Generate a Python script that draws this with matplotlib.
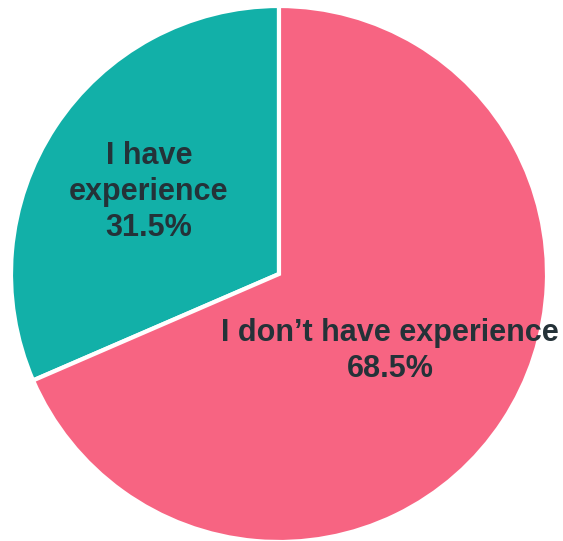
import matplotlib
matplotlib.use("Agg")
import matplotlib.pyplot as plt

labels = ["I have\nexperience", "I don\u2019t have experience"]
shares = [31.5, 68.5]
colors = ["#12B0A8", "#F76482"]

W, H = 563, 541
fig = plt.figure(figsize=(W / 100, H / 100), dpi=100)
ax = fig.add_axes([0, 0, 1, 1])
ax.set_aspect("equal")
ax.axis("off")

# pie laid out in pixel units so the centre/radius are easy to place
cx, cy, r = 279, H - 274, 268
ax.pie(shares, colors=colors, startangle=90, counterclock=True,
       center=(cx, cy), radius=r,
       wedgeprops=dict(edgecolor="white", linewidth=3))
ax.set_xlim(0, W)
ax.set_ylim(0, H)

label_pos = [(149, H - 192), (390, H - 351)]
for lab, val, (x, y) in zip(labels, shares, label_pos):
    ax.text(x, y, f"{lab}\n{val:.1f}%", ha="center", va="center",
            fontsize=22, fontweight="bold", color="#243238",
            family="Liberation Sans", linespacing=1.25)

fig.savefig("out.png", dpi=100)
